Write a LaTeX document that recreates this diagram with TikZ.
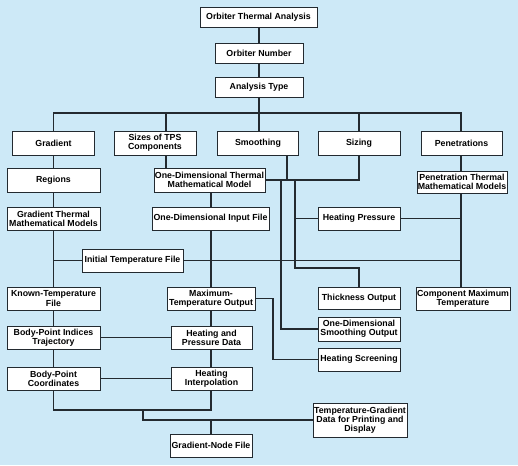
\documentclass[tikz,border=0pt]{standalone}
\usepackage{fontspec}
\setmainfont{Liberation Sans}
\definecolor{bg}{RGB}{205,233,247}
\definecolor{ln}{RGB}{35,42,48}
\begin{document}
\begin{tikzpicture}[x=1pt,y=-1pt,
  box/.style={draw=ln,line width=0.8pt,fill=white,inner sep=0pt,align=center,
    font=\fontsize{8.8}{9.2}\selectfont\bfseries},
  conn/.style={draw=ln,line width=1.4pt}]
\fill[bg] (0,0) rectangle (518,465);
\useasboundingbox (0,0) rectangle (518,465);
% column coordinates
\coordinate (cA) at (53.5,0);
\coordinate (cS) at (166,0);
\coordinate (cB) at (211,0);
\coordinate (cM) at (259,0);
\coordinate (cSm) at (287,0);
\coordinate (c281) at (281,0);
\coordinate (c295) at (295,0);
\coordinate (cZ) at (359,0);
\coordinate (cP) at (461,0);
\coordinate (c273) at (273,0);
\coordinate (c143) at (143,0);
\coordinate (bus) at (0,113);
\coordinate (j) at (0,180);
\coordinate (lowbend) at (0,268);
\coordinate (bus2) at (0,410);
% nodes
\node[box,minimum width=117,minimum height=20] (ota) at (258.5,17) {Orbiter Thermal Analysis};
\node[box,minimum width=88,minimum height=20] (on) at (259,53) {Orbiter Number};
\node[box,minimum width=88,minimum height=20] (at) at (259,87) {Analysis Type};
\node[box,minimum width=82,minimum height=24] (grad) at (53.5,143) {Gradient};
\node[box,minimum width=82,minimum height=24] (sizes) at (155,143) {Sizes of TPS\\Components};
\node[box,minimum width=81,minimum height=24] (smooth) at (258,143) {Smoothing};
\node[box,minimum width=82,minimum height=24] (sizing) at (359,143) {Sizing};
\node[box,minimum width=81,minimum height=24] (pen) at (461.5,143) {Penetrations};
\node[box,minimum width=93,minimum height=24] (regions) at (53.5,180) {Regions};
\node[box,minimum width=93,minimum height=23] (gtmm) at (53.5,218.5) {Gradient Thermal\\Mathematical Models};
\node[box,minimum width=111,minimum height=24] (odtmm) at (209.5,180) {One-Dimensional Thermal\\Mathematical Model};
\node[box,minimum width=117,minimum height=23] (odif) at (210.5,218.5) {One-Dimensional Input File};
\node[box,minimum width=90,minimum height=22] (ptmm) at (462,182) {Penetration Thermal\\Mathematical Models};
\node[box,minimum width=82,minimum height=23] (hp) at (359,218.5) {Heating Pressure};
\node[box,minimum width=101,minimum height=23] (itf) at (132.5,260.5) {Initial Temperature File};
\node[box,minimum width=93,minimum height=23] (ktf) at (53.5,298.5) {Known-Temperature\\File};
\node[box,minimum width=88,minimum height=23] (mto) at (211,298.5) {Maximum-\\Temperature Output};
\node[box,minimum width=82,minimum height=22] (to) at (359,298) {Thickness Output};
\node[box,minimum width=94,minimum height=23] (cmt) at (463,298.5) {Component Maximum\\Temperature};
\node[box,minimum width=82,minimum height=24] (odso) at (359,329) {One-Dimensional\\Smoothing Output};
\node[box,minimum width=82,minimum height=23] (hs) at (359,359.5) {Heating Screening};
\node[box,minimum width=93,minimum height=23] (bpit) at (53.5,337.5) {Body-Point Indices\\Trajectory};
\node[box,minimum width=81,minimum height=23] (hpd) at (211.5,337.5) {Heating and\\Pressure Data};
\node[box,minimum width=93,minimum height=23] (bpc) at (53.5,378.5) {Body-Point\\Coordinates};
\node[box,minimum width=81,minimum height=23] (hi) at (211.5,378.5) {Heating\\Interpolation};
\node[box,minimum width=94,minimum height=34] (tgd) at (360,420) {Temperature-Gradient\\Data for Printing and\\Display};
\node[box,minimum width=82,minimum height=23] (gnf) at (211,445.5) {Gradient-Node File};
% connectors
\begin{scope}[conn]
\draw (ota.south -| cM) -- (on.north -| cM);
\draw (on.south -| cM) -- (at.north -| cM);
\draw (at.south -| cM) -- (bus -| cM);
\draw (grad.north -| cA) -- (bus -| cA) -- (bus -| cP) -- (pen.north -| cP);
\draw (bus -| cS) -- (sizes.north -| cS);
\draw (bus -| cM) -- (smooth.north -| cM);
\draw (bus -| cZ) -- (sizing.north -| cZ);
% gradient column
\draw (grad.south -| cA) -- (regions.north -| cA);
\draw (regions.south -| cA) -- (gtmm.north -| cA);
\draw (gtmm.south -| cA) -- (ktf.north -| cA);
\draw (ktf.south -| cA) -- (bpit.north -| cA);
\draw (bpit.south -| cA) -- (bpc.north -| cA);
% sizes column
\draw (sizes.south -| cS) -- (odtmm.north -| cS);
\draw (odtmm.south -| cB) -- (odif.north -| cB);
\draw (odif.south -| cB) -- (mto.north -| cB);
\draw (mto.south -| cB) -- (hpd.north -| cB);
\draw (hpd.south -| cB) -- (hi.north -| cB);
% initial temperature line
\draw (itf.west -| cA) -- (itf.west);
\draw (itf.east) -- (itf.east -| cP);
% smoothing / sizing junction
\draw (smooth.south -| cSm) -- (j -| cSm);
\draw (odtmm.east |- j) -- (j -| cZ) -- (sizing.south -| cZ);
\draw (j -| c281) |- (odso.west);
\draw (j -| c295) -- (lowbend -| c295) -| (to.north -| cZ);
\draw (hp.west -| c295) -- (hp.west);
\draw (hp.east) -- (hp.east -| cP);
% penetrations column
\draw (pen.south -| cP) -- (ptmm.north -| cP);
\draw (ptmm.south -| cP) -- (cmt.north -| cP);
% max temp output to heating screening
\draw (mto.east) -- (mto.east -| c273) |- (hs.west);
% horizontal links
\draw (bpit.east) -- (hpd.west);
\draw (bpc.east) -- (hi.west);
% bottom
\draw (bpc.south -| cA) -- (bus2 -| cA) -- (bus2 -| cB) -- (hi.south -| cB);
\draw (bus2 -| c143) |- (tgd.west);
\draw (gnf.north -| cB) -- (gnf.north |- tgd.west);
\end{scope}
\end{tikzpicture}
\end{document}
